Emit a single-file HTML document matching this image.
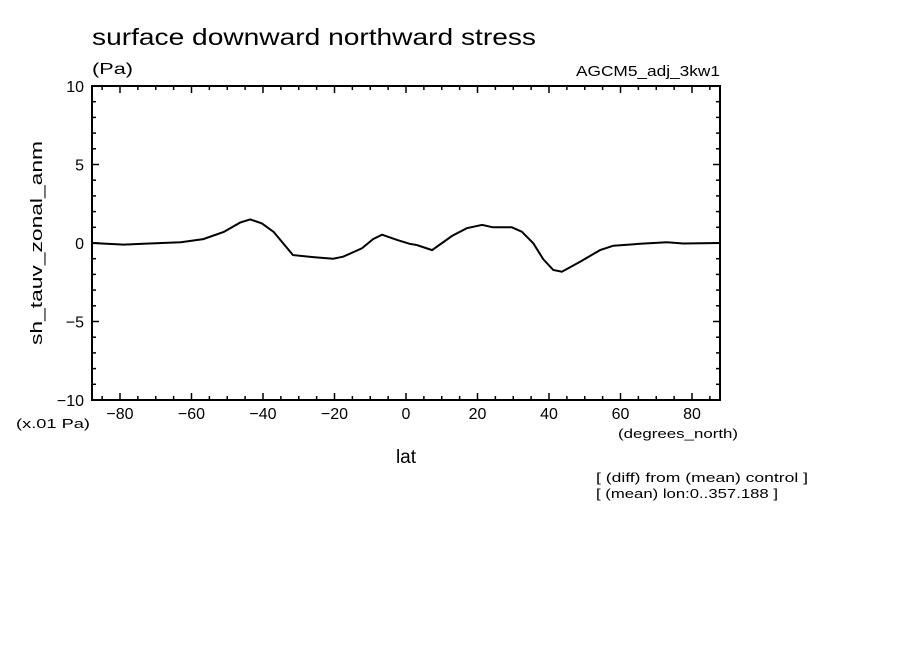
<!DOCTYPE html>
<html><head><meta charset="utf-8"><style>
body{margin:0;background:#fff}
svg text{font-family:"Liberation Sans",sans-serif;fill:#000}
</style></head><body>
<svg width="904" height="654" viewBox="0 0 904 654" xmlns="http://www.w3.org/2000/svg">
<rect width="904" height="654" fill="#fff"/>
<text x="92" y="45" font-size="23" textLength="444" lengthAdjust="spacingAndGlyphs">surface downward northward stress</text>
<text x="92" y="74" font-size="16" textLength="41" lengthAdjust="spacingAndGlyphs">(Pa)</text>
<text x="576" y="76" font-size="15" textLength="144" lengthAdjust="spacingAndGlyphs">AGCM5_adj_3kw1</text>
<g id="ticks"></g>
<path id="line" fill="none" stroke="#000" stroke-width="2"/>
<rect x="92" y="86" width="628" height="314" fill="none" stroke="#000" stroke-width="2"/>
<text x="42" y="243" font-size="17" transform="rotate(-90 42 243)" text-anchor="middle" textLength="204" lengthAdjust="spacingAndGlyphs">sh_tauv_zonal_anm</text>
<text x="16" y="428" font-size="13" textLength="74" lengthAdjust="spacingAndGlyphs">(x.01 Pa)</text>
<text x="406" y="463" font-size="19" text-anchor="middle">lat</text>
<text x="618" y="438" font-size="13" textLength="120" lengthAdjust="spacingAndGlyphs">(degrees_north)</text>
<text x="596" y="482" font-size="13" textLength="212" lengthAdjust="spacingAndGlyphs">[ (diff) from (mean) control ]</text>
<text x="596" y="498" font-size="13" textLength="182" lengthAdjust="spacingAndGlyphs">[ (mean) lon:0..357.188 ]</text>
</svg>
<script>
const lats=[-87.8,-79,-73.5,-63,-56.7,-51,-46.4,-43.6,-40.3,-37,-31.6,-26,-20.4,-17.6,-12.3,-9.2,-6.7,-2.5,1,3,7.3,12.9,17,21.3,24.3,29.6,32.4,35.6,38.4,41.2,43.6,48.7,54.3,58,65.5,73,77.5,87.8];
const vals=[0,-0.1,-0.05,0.05,0.25,0.7,1.3,1.5,1.25,0.7,-0.77,-0.9,-1.0,-0.87,-0.34,0.25,0.53,0.2,-0.05,-0.13,-0.45,0.45,0.94,1.15,1.0,1.0,0.72,-0.02,-1.04,-1.72,-1.83,-1.19,-0.45,-0.17,-0.05,0.05,-0.03,0];
const xTicks=[-80,-60,-40,-20,0,20,40,60,80];
const yTicks=[-10,-5,0,5,10];
const xs=v=>406+v*3.575, ys=v=>243-v*15.7;
const NS='http://www.w3.org/2000/svg';
document.getElementById('line').setAttribute('d',lats.map((l,i)=>(i?'L':'M')+xs(l).toFixed(1)+','+ys(vals[i]).toFixed(1)).join(''));
const g=document.getElementById('ticks');
function ln(x1,y1,x2,y2){const e=document.createElementNS(NS,'line');e.setAttribute('x1',x1);e.setAttribute('y1',y1);e.setAttribute('x2',x2);e.setAttribute('y2',y2);e.setAttribute('stroke','#000');e.setAttribute('stroke-width','1.5');


g.appendChild(e);}
function tx(x,y,s,a){const e=document.createElementNS(NS,'text');e.setAttribute('x',x);e.setAttribute('y',y);e.setAttribute('font-size','16');e.setAttribute('text-anchor',a);e.textContent=s;


g.appendChild(e);}
for(let l=-85;l<=85;l+=5){const x=xs(l),L=(l%20===0)?7:4;ln(x,400,x,400-L);ln(x,86,x,86+L);}
for(let v=-10;v<=10;v++){const y=ys(v),L=(v%5===0)?7:4;ln(92,y,92+L,y);ln(720,y,720-L,y);}
xTicks.forEach(t=>tx(xs(t),419,String(t).replace('-','\u2212'),'middle'));
yTicks.forEach(t=>tx(84,ys(t)+6,String(t).replace('-','\u2212'),'end'));
</script>
</body></html>
